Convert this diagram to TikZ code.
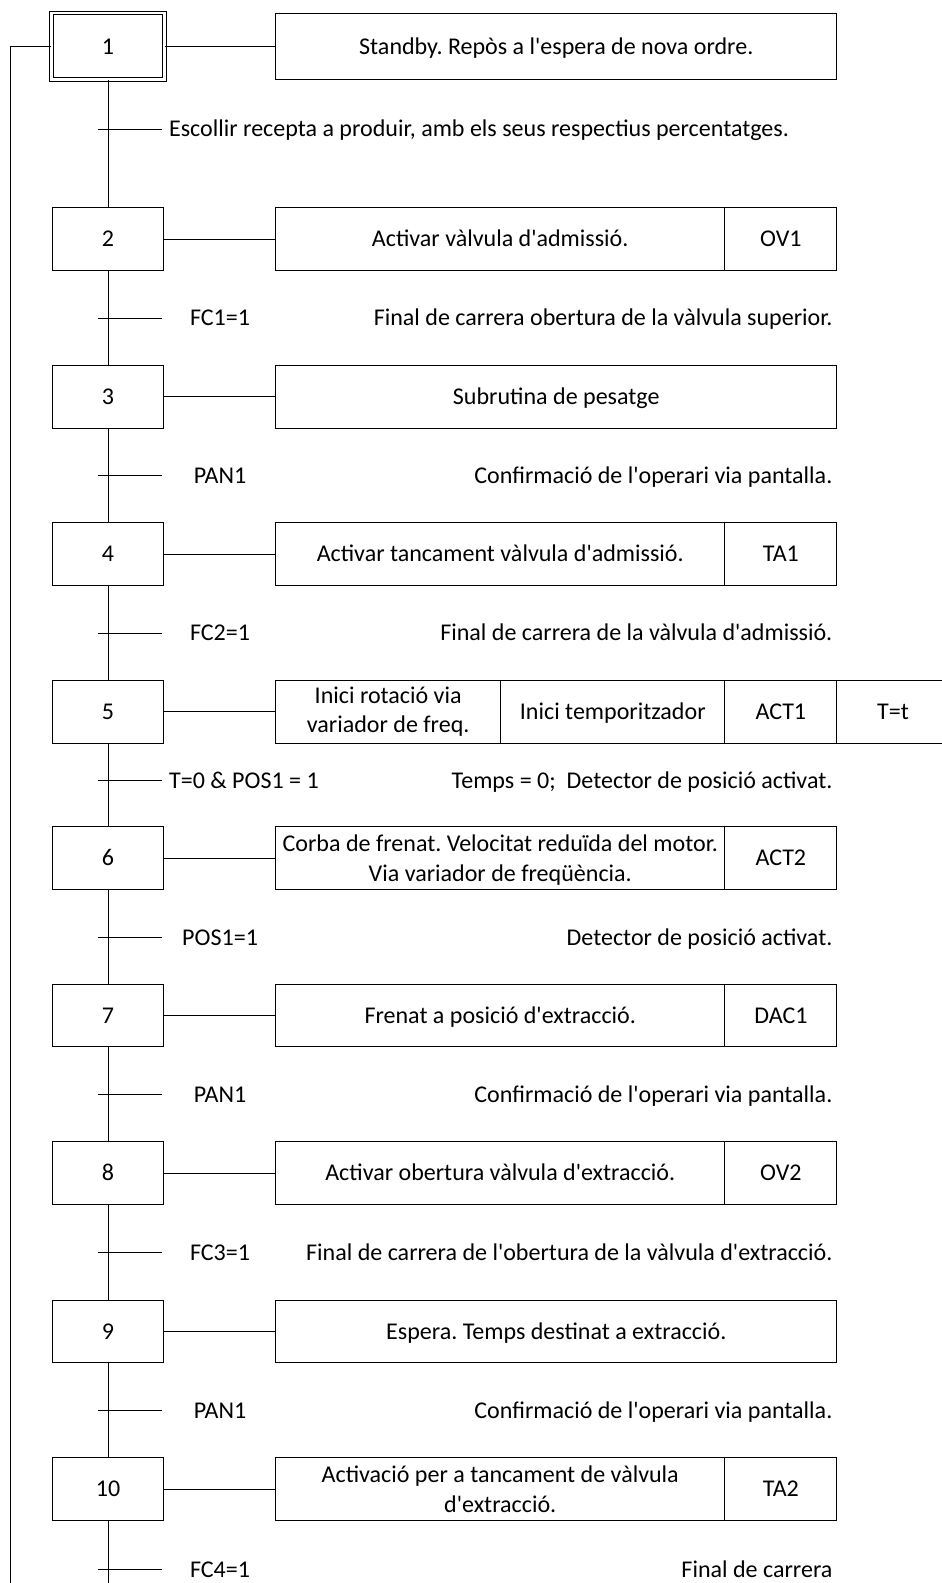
\documentclass[tikz,border=0pt]{standalone}
\usepackage{fontspec}
\setmainfont{Carlito}[Ligatures=TeXOff]
\usetikzlibrary{positioning}
\frenchspacing

\begin{document}
\begin{tikzpicture}[x=1pt, y=-1pt, line width=1pt,
  font=\fontsize{23.8}{29}\selectfont,
  linia/.style={text height=15.3pt, text depth=0pt},
  etapa/.style={draw, linia, minimum width=110pt, minimum height=62pt, inner sep=0pt},
  inicial/.style={etapa, double, double distance=2.5pt, minimum width=112pt, minimum height=66pt},
  accio/.style={draw, minimum height=62pt, inner sep=0pt, outer sep=0pt, align=center},
  codi/.style={accio, linia, minimum width=111pt},
  cond/.style={linia, inner sep=0pt},
  desc/.style={linia, inner sep=0pt, anchor=east}]
  \clip (0,0) rectangle (933,1568);

  % etapes
  \node[inicial] (s1) at (107,46) {1};
  \node[etapa] (s2) at (107,237) {2};
  \node[etapa] (s3) at (107,393) {3};
  \node[etapa] (s4) at (107,549) {4};
  \node[etapa] (s5) at (107,705) {5};
  \node[etapa] (s6) at (107,850) {6};
  \node[etapa] (s7) at (107,1006) {7};
  \node[etapa] (s8) at (107,1162) {8};
  \node[etapa] (s9) at (107,1319) {9};
  \node[etapa] (s10) at (107,1475) {10};

  % accions
  \node[accio, linia, minimum width=556pt, minimum height=66pt, anchor=west] (a1) at (273,46) {Standby. Repòs a l'espera de nova ordre.};
  \node[accio, linia, minimum width=445pt, anchor=west] (a2) at (273,237) {Activar vàlvula d'admissió.};
  \node[codi, right=0pt of a2] (c2) {OV1};
  \node[accio, linia, minimum width=556pt, anchor=west] (a3) at (273,393) {Subrutina de pesatge};
  \node[accio, linia, minimum width=445pt, anchor=west] (a4) at (273,549) {Activar tancament vàlvula d'admissió.};
  \node[codi, right=0pt of a4] (c4) {TA1};
  \node[accio, minimum width=223pt, anchor=west] (a5) at (273,705) {Inici rotació via\\variador de freq.};
  \node[accio, linia, minimum width=222pt, right=0pt of a5] (b5) {Inici temporitzador};
  \node[codi, right=0pt of b5] (c5) {ACT1};
  \node[codi, right=0pt of c5] (d5) {T=t};
  \node[accio, text depth=0pt, minimum width=445pt, anchor=west] (a6) at (273,850) {Corba de frenat. Velocitat reduïda del motor.\\Via variador de freqüència.};
  \node[codi, right=0pt of a6] (c6) {ACT2};
  \node[accio, linia, minimum width=445pt, anchor=west] (a7) at (273,1006) {Frenat a posició d'extracció.};
  \node[codi, right=0pt of a7] (c7) {DAC1};
  \node[accio, linia, minimum width=445pt, anchor=west] (a8) at (273,1162) {Activar obertura vàlvula d'extracció.};
  \node[codi, right=0pt of a8] (c8) {OV2};
  \node[accio, linia, minimum width=556pt, anchor=west] (a9) at (273,1319) {Espera. Temps destinat a extracció.};
  \node[accio, minimum width=445pt, anchor=west] (a10) at (273,1475) {Activació per a tancament de vàlvula\\d'extracció.};
  \node[codi, right=0pt of a10] (c10) {TA2};

  % enllacos etapa - accio
  \foreach \i in {1,...,10}
    \draw (s\i.east) -- (a\i.west);

  % linia principal i retorn
  \coordinate (fi) at (107,1570);
  \coordinate (ret) at (10,1570);
  \draw (s1.south) -- (s2.north);
  \foreach \i [evaluate=\i as \j using int(\i+1)] in {2,...,9}
    \draw (s\i.south) -- (s\j.north);
  \draw (s10.south) -- (fi);
  \draw (s1.west) -| (ret);

  % receptivitats
  \foreach \y in {128,315,471,627,773,929,1084,1241,1397,1555}
    \draw (97,\y) -- (160,\y);

  \node[cond, anchor=west] at (167,128) {Escollir recepta a produir, amb els seus respectius percentatges.};
  \node[cond] at (218,315) {FC1=1};
  \node[desc] at (825,315) {Final de carrera obertura de la vàlvula superior.};
  \node[cond] at (218,471) {PAN1};
  \node[desc] at (825,471) {Confirmació de l'operari via pantalla.};
  \node[cond] at (218,627) {FC2=1};
  \node[desc] at (825,627) {Final de carrera de la vàlvula d'admissió.};
  \node[cond, anchor=west] at (167,773) {T=0 \& POS1 = 1};
  \node[desc] at (825,773) {Temps = 0;\ \ Detector de posició activat.};
  \node[cond] at (218,929) {POS1=1};
  \node[desc] at (825,929) {Detector de posició activat.};
  \node[cond] at (218,1084) {PAN1};
  \node[desc] at (825,1084) {Confirmació de l'operari via pantalla.};
  \node[cond] at (218,1241) {FC3=1};
  \node[desc] at (825,1241) {Final de carrera de l'obertura de la vàlvula d'extracció.};
  \node[cond] at (218,1397) {PAN1};
  \node[desc] at (825,1397) {Confirmació de l'operari via pantalla.};
  \node[cond] at (218,1555) {FC4=1};
  \node[desc] at (825,1555) {Final de carrera};
\end{tikzpicture}
\end{document}
